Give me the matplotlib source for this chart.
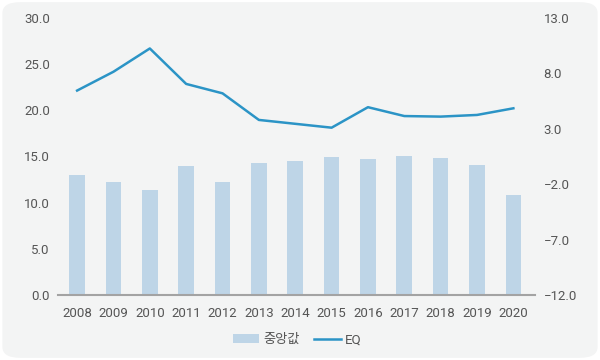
import matplotlib.pyplot as plt
from matplotlib.patches import FancyBboxPatch
import numpy as np

plt.rcParams['font.family'] = ['Roboto', 'Noto Sans CJK KR', 'DejaVu Sans']

years = ['2008', '2009', '2010', '2011', '2012', '2013', '2014',
         '2015', '2016', '2017', '2018', '2019', '2020']
median_vals = [13.0, 12.2, 11.4, 13.95, 12.25, 14.3, 14.5, 14.9, 14.7, 15.1, 14.8, 14.1, 10.8]
eq_vals = [6.45, 8.15, 10.25, 7.05, 6.2, 3.8, 3.45, 3.1, 4.95, 4.15, 4.1, 4.25, 4.85]

bar_color = '#bed5e7'
line_color = '#2b94c6'
text_color = '#555555'

fig = plt.figure(figsize=(6, 3.6), dpi=100)
fig.patch.set_facecolor('white')
bg = FancyBboxPatch((0.004, 0.006), 0.992, 0.988, boxstyle='round,pad=0,rounding_size=0.03',
                    transform=fig.transFigure, facecolor='#f3f4f4', edgecolor='none', zorder=-10)
fig.patches.append(bg)

ax = fig.add_axes([0.097, 0.1806, 0.795, 0.7694])
ax.set_facecolor('none')
x = np.arange(len(years))
ax.bar(x, median_vals, width=0.43, color=bar_color, label='중앙값', zorder=2)
ax.set_ylim(0, 30)
ax.set_yticks(np.arange(0, 31, 5))
ax.set_yticklabels([f'{v:.1f}' for v in np.arange(0, 31, 5)])
ax.set_xlim(-0.52, 12.6)
ax.set_xticks(x)
ax.set_xticklabels(years)

ax2 = ax.twinx()
ax2.plot(x, eq_vals, color=line_color, linewidth=1.8, label='EQ', zorder=3)
ax2.set_ylim(-12, 13)
ticks2 = np.arange(-12, 14, 5)
ax2.set_yticks(ticks2)
ax2.set_yticklabels([f'{v:.1f}'.replace('-', '\u2212') for v in ticks2])

for a in (ax, ax2):
    for s in ('top', 'left', 'right', 'bottom'):
        a.spines[s].set_visible(False)
ax.spines['bottom'].set_visible(True)
ax.spines['bottom'].set_color('#a3a3a3')
ax.spines['bottom'].set_linewidth(1.5)
ax.spines['bottom'].set_zorder(4)

ax.tick_params(axis='y', length=0, pad=6, labelsize=9.5, labelcolor=text_color)
ax.tick_params(axis='x', length=0, pad=9, labelsize=9.5, labelcolor=text_color)
ax2.tick_params(axis='y', length=0, pad=6, labelsize=9.5, labelcolor=text_color)

h1, l1 = ax.get_legend_handles_labels()
h2, l2 = ax2.get_legend_handles_labels()
fig.legend(h1 + h2, l1 + l2, loc='center', bbox_to_anchor=(0.495, 0.056), ncol=2,
           frameon=False, fontsize=9.5, labelcolor=text_color, handlelength=2.0,
           handleheight=0.6, columnspacing=1.1, handletextpad=0.3)

fig.savefig('out.png', dpi=100)
